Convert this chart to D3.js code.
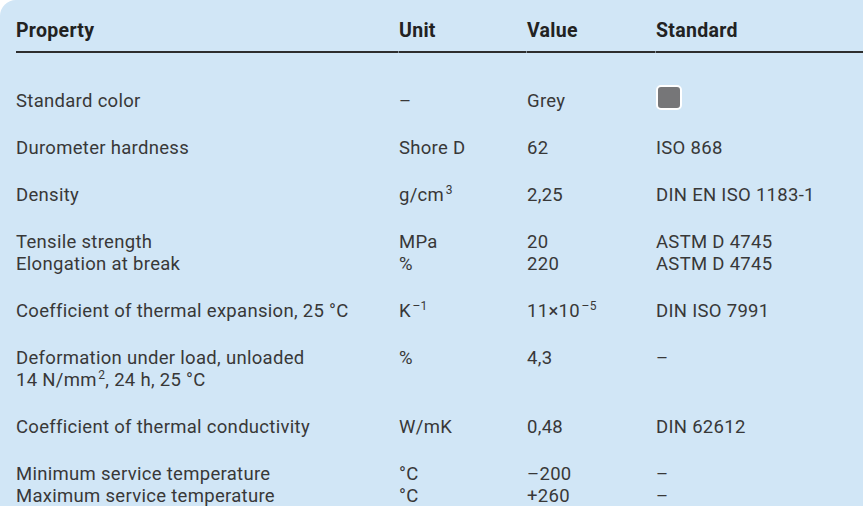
<!DOCTYPE html>
<html>
<head>
<meta charset="utf-8">
<script src="https://cdn.jsdelivr.net/npm/d3@7"></script>
<style>
  html, body { margin: 0; padding: 0; background: #fff; }
  svg { display: block; }
  text { font-family: Roboto, "Noto Sans", sans-serif; }
</style>
</head>
<body>
<div id="chart"></div>
<script>
// table content, {..} marks superscript, | splits a cell into lines
var headers = ["Property", "Unit", "Value", "Standard"];

var properties = [
    "Standard color",
    "Durometer hardness",
    "Density",
    "Tensile strength",
    "Elongation at break",
    "Coefficient of thermal expansion, 25 °C",
    "Deformation under load, unloaded|14 N/mm{2}, 24 h, 25 °C",
    "Coefficient of thermal conductivity",
    "Minimum service temperature",
    "Maximum service temperature"
];

var units = ["–", "Shore D", "g/cm{3}", "MPa", "%", "K{–1}", "%", "W/mK", "°C", "°C"];

var values = ["Grey", "62", "2,25", "20", "220", "11×10{–5}", "4,3", "0,48", "–200", "+260"];

var standards = ["#swatch", "ISO 868", "DIN EN ISO 1183-1", "ASTM D 4745", "ASTM D 4745",
    "DIN ISO 7991", "–", "DIN 62612", "–", "–"];

// rows sharing a group number sit directly under each other
var groups = [0, 1, 2, 3, 3, 4, 5, 6, 7, 7];

var swatchColor = "#767678";

var w = 863;
var h = 506;
var lineStep = 22;
var groupGap = 25;

var svg = d3.select("#chart").append("svg")
    .attr("width", w)
    .attr("height", h);

// panel with only the top left corner rounded
var r = 16;
svg.append("path")
    .attr("d", "M0," + r + " A" + r + "," + r + " 0 0 1 " + r + ",0 H" + w + " V" + h + " H0 Z")
    .attr("fill", "#d1e6f6");

var columns = ["property", "unit", "value", "standard"];
var xScale = d3.scaleOrdinal()
    .domain(columns)
    .range([16, 399, 527, 656]);

// offset of each row: lines so far plus gaps between groups
var rows = [];
var line = 0;
properties.forEach(function(p, i) {
    var lines = p.split("|");
    rows.push({
        offset: line * lineStep + groups[i] * groupGap,
        property: lines,
        unit: units[i],
        value: values[i],
        standard: standards[i]
    });
    line += lines.length;
});

var yScale = d3.scaleLinear()
    .domain([0, 395])
    .range([107, 502]);

// header
svg.append("g").selectAll("text")
    .data(headers)
    .enter()
    .append("text")
    .attr("x", function(d, i) { return xScale(columns[i]); })
    .attr("y", 37)
    .attr("font-size", 19.5)
    .attr("font-weight", 700)
    .attr("letter-spacing", 0.3)
    .attr("fill", "#222")
    .text(function(d) { return d; });

// header rule, one piece per column like table cell borders
var edges = columns.map(function(c) { return xScale(c); }).concat([w]);
svg.append("g").selectAll("line")
    .data(d3.range(columns.length))
    .enter()
    .append("line")
    .attr("x1", function(i) { return i === 0 ? edges[i] : edges[i] - 0.5; })
    .attr("x2", function(i) { return i === columns.length - 1 ? edges[i + 1] : edges[i + 1] - 1; })
    .attr("y1", 52)
    .attr("y2", 52)
    .attr("stroke", "#2e2e2e")
    .attr("stroke-width", 2);

// write a string with {..} superscripts into a text element
function fillText(sel, str) {
    var parts = str.split(/(\{[^}]*\})/).filter(function(p) { return p; });
    var raised = false;
    parts.forEach(function(part) {
        if (part[0] === "{") {
            sel.append("tspan")
                .attr("font-size", 12)
                .attr("dy", -7)
                .attr("dx", 1.5)
                .text(part.slice(1, -1));
            raised = true;
        } else {
            sel.append("tspan")
                .attr("dy", raised ? 7 : null)
                .text(part);
            raised = false;
        }
    });
}

var body = svg.append("g")
    .attr("font-size", 18.5)
    .attr("letter-spacing", 0.3)
    .attr("fill", "#383838");

var rowG = body.selectAll(".row")
    .data(rows)
    .enter()
    .append("g")
    .attr("class", "row")
    .attr("transform", function(d) { return "translate(0," + yScale(d.offset) + ")"; });

rowG.each(function(d) {
    var g = d3.select(this);
    d.property.forEach(function(txt, k) {
        fillText(g.append("text")
            .attr("x", xScale("property"))
            .attr("y", k * lineStep), txt);
    });
    fillText(g.append("text").attr("x", xScale("unit")), d.unit);
    fillText(g.append("text").attr("x", xScale("value")), d.value);
    if (d.standard === "#swatch") {
        g.append("rect")
            .attr("x", xScale("standard") + 1)
            .attr("y", -21)
            .attr("width", 24)
            .attr("height", 23)
            .attr("rx", 4)
            .attr("fill", swatchColor)
            .attr("stroke", "#fff")
            .attr("stroke-width", 2);
    } else {
        fillText(g.append("text").attr("x", xScale("standard")), d.standard);
    }
});
</script>
</body>
</html>
